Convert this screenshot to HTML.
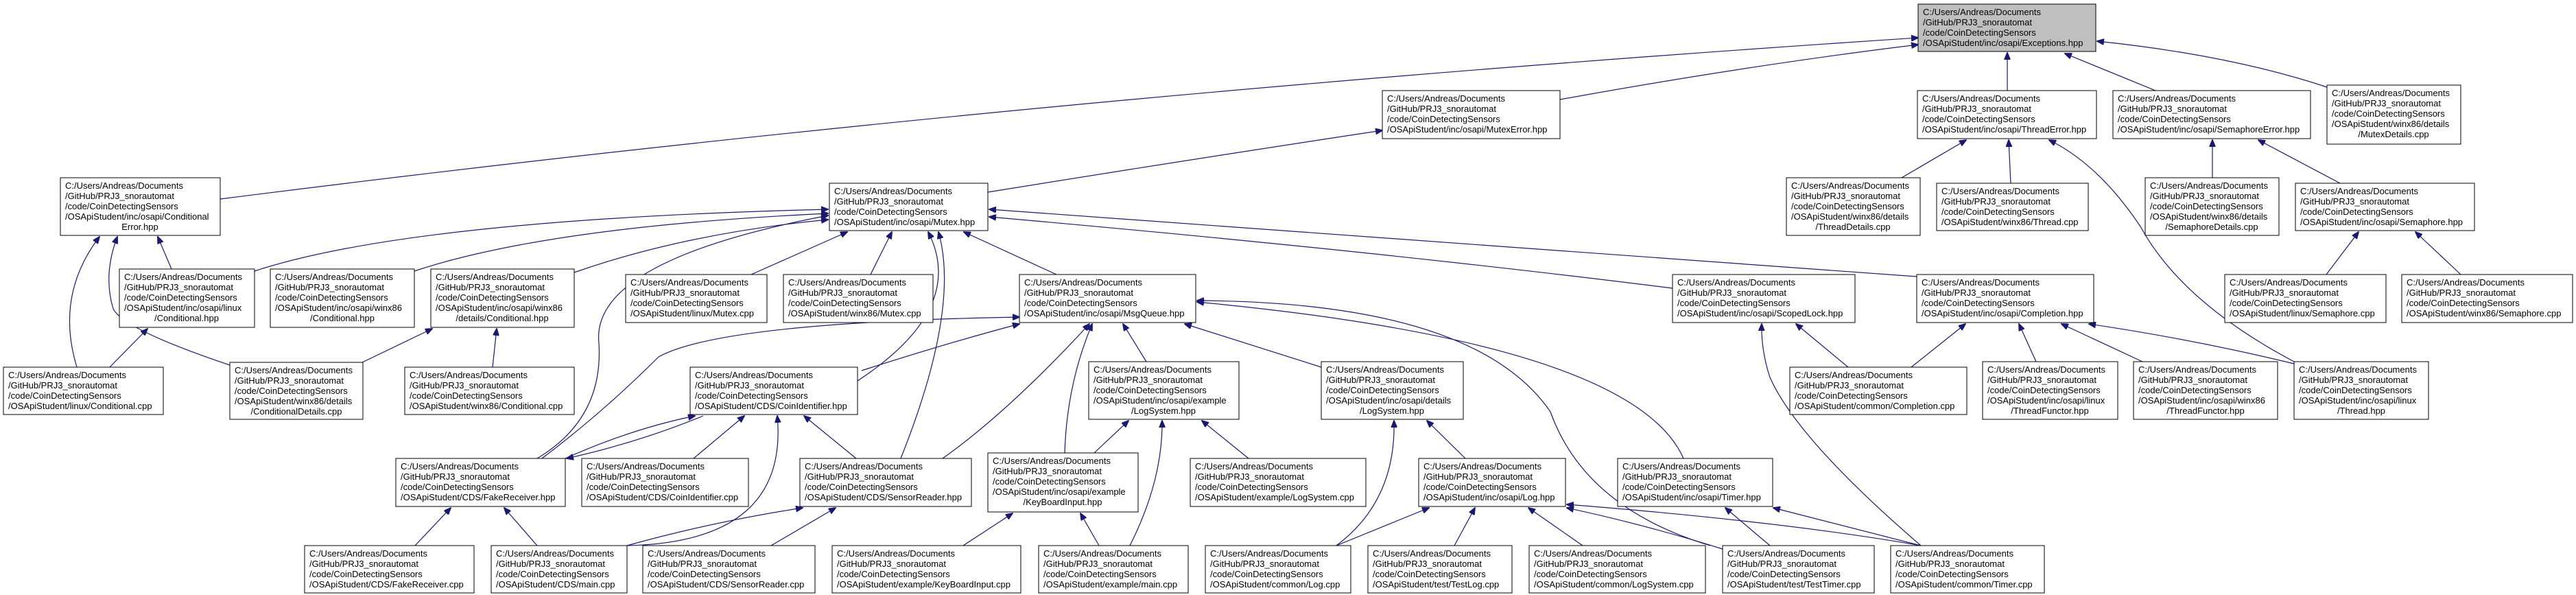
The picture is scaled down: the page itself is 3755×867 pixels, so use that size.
<!DOCTYPE html>
<html><head><meta charset="utf-8"><style>
html,body{margin:0;padding:0;background:#fff;}
svg{display:block;}
text{font-family:"Liberation Sans",Arial,sans-serif;font-size:13px;fill:#000;}
.n rect{fill:#fff;stroke:#000;stroke-width:1;}
.e path{fill:none;stroke:#191970;stroke-width:1.2;marker-end:url(#a);}
</style></head><body>
<svg width="3755" height="867" viewBox="0 0 3755 867" xmlns="http://www.w3.org/2000/svg">
<defs><marker id="a" markerWidth="11" markerHeight="9" refX="10" refY="4.5" orient="auto" markerUnits="userSpaceOnUse"><path d="M0,0 L11,4.5 L0,9z" fill="#191970" stroke="#191970"/></marker></defs>
<g class="e">
<!-- to Exceptions -->
<path d="M321,290 Q1500,140 2796,55"/>
<path d="M2274,145 Q2550,95 2796,65"/>
<path d="M2926,132 L2926,77"/>
<path d="M3142,132 L3010,78"/>
<path d="M3392,127 Q3250,80 3057,60"/>
<path d="M1440,280 Q1750,230 2015,190"/>
<path d="M2772,259 L2866,204"/>
<path d="M2931,267 L2928,204"/>
<path d="M3344,527 Q3180,440 3120,330 Q3060,240 2987,204"/>
<path d="M3225,259 L3225,204"/>
<path d="M3411,267 L3292,204"/>
<path d="M3391,400 L3438,338"/>
<path d="M3587,400 L3521,338"/>
<!-- conditional -->
<path d="M250,392 L230,345"/>
<path d="M112,535 Q80,430 145,345"/>
<path d="M335,532 Q180,480 165,450 Q150,400 171,345"/>
<path d="M371,395 Q600,320 1207,305"/>
<path d="M604,395 Q800,330 1207,311"/>
<path d="M837,397 Q1000,340 1207,320"/>
<path d="M160,535 L215,479"/>
<path d="M528,528 L630,479"/>
<path d="M718,535 L724,479"/>
<path d="M1095,400 L1235,338"/>
<path d="M1269,400 L1300,338"/>
<path d="M783,668 Q880,610 873,500 Q860,380 1207,314"/>
<path d="M1313,668 Q1400,450 1368,338"/>
<path d="M1250,555 Q1410,450 1353,338"/>
<path d="M1540,400 L1405,338"/>
<path d="M2438,420 Q2000,365 1442,316"/>
<path d="M2794,403 Q2100,350 1442,305"/>
<!-- msgqueue -->
<path d="M790,668 Q880,600 960,520 Q1050,470 1486,462"/>
<path d="M1256,540 Q1380,500 1486,472"/>
<path d="M1374,668 Q1470,600 1588,472"/>
<path d="M1552,660 Q1555,560 1592,472"/>
<path d="M1671,527 L1637,472"/>
<path d="M1926,535 L1727,472"/>
<path d="M2454,668 Q2380,500 1745,440"/>
<path d="M2493,795 Q2310,740 2260,600 Q2150,440 1745,438"/>
<!-- CDS -->
<path d="M824,668 Q920,625 1013,606"/>
<path d="M1025,606 Q930,645 826,668"/>
<path d="M1011,668 L1085,606"/>
<path d="M914,795 Q1150,790 1133,606"/>
<path d="M1248,668 L1172,606"/>
<path d="M605,795 L657,740"/>
<path d="M783,795 L735,740"/>
<path d="M914,795 Q1040,760 1170,740"/>
<path d="M1124,795 L1218,740"/>
<path d="M1404,795 L1476,748"/>
<path d="M1602,795 L1575,748"/>
<path d="M1647,795 Q1695,700 1694,613"/>
<path d="M1595,660 L1645,613"/>
<path d="M1820,668 L1752,613"/>
<path d="M1948,795 Q2035,730 2032,613"/>
<path d="M2136,668 L2080,613"/>
<path d="M1948,795 L2083,740"/>
<path d="M2120,795 L2150,740"/>
<path d="M2307,795 L2228,740"/>
<path d="M2511,800 Q2400,765 2284,740"/>
<path d="M2800,795 Q2600,760 2284,735"/>
<path d="M2580,795 L2515,740"/>
<path d="M2800,795 L2585,740"/>
<path d="M2800,795 Q2620,640 2580,550 Q2567,510 2568,472"/>
<path d="M2694,535 L2618,472"/>
<path d="M2786,535 L2865,472"/>
<path d="M2968,527 L2943,472"/>
<path d="M3123,527 L3005,472"/>
<path d="M3344,530 Q3200,495 3045,472"/>
</g>
<g class="n">
<rect x="2796" y="6" width="259" height="69" style="fill:#bfbfbf"/><text x="2803" y="22">C:/Users/Andreas/Documents</text><text x="2803" y="37">/GitHub/PRJ3_snorautomat</text><text x="2803" y="52">/code/CoinDetectingSensors</text><text x="2803" y="67">/OSApiStudent/inc/osapi/Exceptions.hpp</text>
<rect x="2015" y="132" width="259" height="70"/><text x="2022" y="148">C:/Users/Andreas/Documents</text><text x="2022" y="163">/GitHub/PRJ3_snorautomat</text><text x="2022" y="178">/code/CoinDetectingSensors</text><text x="2022" y="193">/OSApiStudent/inc/osapi/MutexError.hpp</text>
<rect x="2795" y="132" width="261" height="70"/><text x="2802" y="148">C:/Users/Andreas/Documents</text><text x="2802" y="163">/GitHub/PRJ3_snorautomat</text><text x="2802" y="178">/code/CoinDetectingSensors</text><text x="2802" y="193">/OSApiStudent/inc/osapi/ThreadError.hpp</text>
<rect x="3080" y="132" width="288" height="70"/><text x="3087" y="148">C:/Users/Andreas/Documents</text><text x="3087" y="163">/GitHub/PRJ3_snorautomat</text><text x="3087" y="178">/code/CoinDetectingSensors</text><text x="3087" y="193">/OSApiStudent/inc/osapi/SemaphoreError.hpp</text>
<rect x="3392" y="124" width="195" height="86"/><text x="3399" y="140">C:/Users/Andreas/Documents</text><text x="3399" y="155">/GitHub/PRJ3_snorautomat</text><text x="3399" y="170">/code/CoinDetectingSensors</text><text x="3399" y="185">/OSApiStudent/winx86/details</text><text x="3489" y="200" text-anchor="middle">/MutexDetails.cpp</text>
<rect x="88" y="259" width="233" height="84"/><text x="95" y="275">C:/Users/Andreas/Documents</text><text x="95" y="290">/GitHub/PRJ3_snorautomat</text><text x="95" y="305">/code/CoinDetectingSensors</text><text x="95" y="320">/OSApiStudent/inc/osapi/Conditional</text><text x="204" y="335" text-anchor="middle">Error.hpp</text>
<rect x="1209" y="267" width="231" height="69"/><text x="1216" y="283">C:/Users/Andreas/Documents</text><text x="1216" y="298">/GitHub/PRJ3_snorautomat</text><text x="1216" y="313">/code/CoinDetectingSensors</text><text x="1216" y="328">/OSApiStudent/inc/osapi/Mutex.hpp</text>
<rect x="2604" y="259" width="195" height="84"/><text x="2611" y="275">C:/Users/Andreas/Documents</text><text x="2611" y="290">/GitHub/PRJ3_snorautomat</text><text x="2611" y="305">/code/CoinDetectingSensors</text><text x="2611" y="320">/OSApiStudent/winx86/details</text><text x="2701" y="335" text-anchor="middle">/ThreadDetails.cpp</text>
<rect x="2823" y="267" width="221" height="69"/><text x="2830" y="283">C:/Users/Andreas/Documents</text><text x="2830" y="298">/GitHub/PRJ3_snorautomat</text><text x="2830" y="313">/code/CoinDetectingSensors</text><text x="2830" y="328">/OSApiStudent/winx86/Thread.cpp</text>
<rect x="3127" y="259" width="195" height="84"/><text x="3134" y="275">C:/Users/Andreas/Documents</text><text x="3134" y="290">/GitHub/PRJ3_snorautomat</text><text x="3134" y="305">/code/CoinDetectingSensors</text><text x="3134" y="320">/OSApiStudent/winx86/details</text><text x="3224" y="335" text-anchor="middle">/SemaphoreDetails.cpp</text>
<rect x="3346" y="267" width="261" height="69"/><text x="3353" y="283">C:/Users/Andreas/Documents</text><text x="3353" y="298">/GitHub/PRJ3_snorautomat</text><text x="3353" y="313">/code/CoinDetectingSensors</text><text x="3353" y="328">/OSApiStudent/inc/osapi/Semaphore.hpp</text>
<rect x="174" y="392" width="197" height="85"/><text x="181" y="408">C:/Users/Andreas/Documents</text><text x="181" y="423">/GitHub/PRJ3_snorautomat</text><text x="181" y="438">/code/CoinDetectingSensors</text><text x="181" y="453">/OSApiStudent/inc/osapi/linux</text><text x="272" y="468" text-anchor="middle">/Conditional.hpp</text>
<rect x="394" y="392" width="210" height="85"/><text x="401" y="408">C:/Users/Andreas/Documents</text><text x="401" y="423">/GitHub/PRJ3_snorautomat</text><text x="401" y="438">/code/CoinDetectingSensors</text><text x="401" y="453">/OSApiStudent/inc/osapi/winx86</text><text x="499" y="468" text-anchor="middle">/Conditional.hpp</text>
<rect x="628" y="392" width="209" height="85"/><text x="635" y="408">C:/Users/Andreas/Documents</text><text x="635" y="423">/GitHub/PRJ3_snorautomat</text><text x="635" y="438">/code/CoinDetectingSensors</text><text x="635" y="453">/OSApiStudent/inc/osapi/winx86</text><text x="732" y="468" text-anchor="middle">/details/Conditional.hpp</text>
<rect x="912" y="400" width="206" height="70"/><text x="919" y="416">C:/Users/Andreas/Documents</text><text x="919" y="431">/GitHub/PRJ3_snorautomat</text><text x="919" y="446">/code/CoinDetectingSensors</text><text x="919" y="461">/OSApiStudent/linux/Mutex.cpp</text>
<rect x="1142" y="400" width="218" height="70"/><text x="1149" y="416">C:/Users/Andreas/Documents</text><text x="1149" y="431">/GitHub/PRJ3_snorautomat</text><text x="1149" y="446">/code/CoinDetectingSensors</text><text x="1149" y="461">/OSApiStudent/winx86/Mutex.cpp</text>
<rect x="1486" y="400" width="257" height="70"/><text x="1493" y="416">C:/Users/Andreas/Documents</text><text x="1493" y="431">/GitHub/PRJ3_snorautomat</text><text x="1493" y="446">/code/CoinDetectingSensors</text><text x="1493" y="461">/OSApiStudent/inc/osapi/MsgQueue.hpp</text>
<rect x="2438" y="400" width="266" height="70"/><text x="2445" y="416">C:/Users/Andreas/Documents</text><text x="2445" y="431">/GitHub/PRJ3_snorautomat</text><text x="2445" y="446">/code/CoinDetectingSensors</text><text x="2445" y="461">/OSApiStudent/inc/osapi/ScopedLock.hpp</text>
<rect x="2794" y="400" width="258" height="70"/><text x="2801" y="416">C:/Users/Andreas/Documents</text><text x="2801" y="431">/GitHub/PRJ3_snorautomat</text><text x="2801" y="446">/code/CoinDetectingSensors</text><text x="2801" y="461">/OSApiStudent/inc/osapi/Completion.hpp</text>
<rect x="3243" y="400" width="235" height="70"/><text x="3250" y="416">C:/Users/Andreas/Documents</text><text x="3250" y="431">/GitHub/PRJ3_snorautomat</text><text x="3250" y="446">/code/CoinDetectingSensors</text><text x="3250" y="461">/OSApiStudent/linux/Semaphore.cpp</text>
<rect x="3501" y="400" width="249" height="70"/><text x="3508" y="416">C:/Users/Andreas/Documents</text><text x="3508" y="431">/GitHub/PRJ3_snorautomat</text><text x="3508" y="446">/code/CoinDetectingSensors</text><text x="3508" y="461">/OSApiStudent/winx86/Semaphore.cpp</text>
<rect x="5" y="535" width="233" height="69"/><text x="12" y="551">C:/Users/Andreas/Documents</text><text x="12" y="566">/GitHub/PRJ3_snorautomat</text><text x="12" y="581">/code/CoinDetectingSensors</text><text x="12" y="596">/OSApiStudent/linux/Conditional.cpp</text>
<rect x="335" y="528" width="194" height="83"/><text x="342" y="544">C:/Users/Andreas/Documents</text><text x="342" y="559">/GitHub/PRJ3_snorautomat</text><text x="342" y="574">/code/CoinDetectingSensors</text><text x="342" y="589">/OSApiStudent/winx86/details</text><text x="432" y="604" text-anchor="middle">/ConditionalDetails.cpp</text>
<rect x="590" y="535" width="247" height="69"/><text x="597" y="551">C:/Users/Andreas/Documents</text><text x="597" y="566">/GitHub/PRJ3_snorautomat</text><text x="597" y="581">/code/CoinDetectingSensors</text><text x="597" y="596">/OSApiStudent/winx86/Conditional.cpp</text>
<rect x="1006" y="535" width="244" height="69"/><text x="1013" y="551">C:/Users/Andreas/Documents</text><text x="1013" y="566">/GitHub/PRJ3_snorautomat</text><text x="1013" y="581">/code/CoinDetectingSensors</text><text x="1013" y="596">/OSApiStudent/CDS/CoinIdentifier.hpp</text>
<rect x="1587" y="527" width="219" height="84"/><text x="1594" y="543">C:/Users/Andreas/Documents</text><text x="1594" y="558">/GitHub/PRJ3_snorautomat</text><text x="1594" y="573">/code/CoinDetectingSensors</text><text x="1594" y="588">/OSApiStudent/inc/osapi/example</text><text x="1696" y="603" text-anchor="middle">/LogSystem.hpp</text>
<rect x="1926" y="527" width="207" height="84"/><text x="1933" y="543">C:/Users/Andreas/Documents</text><text x="1933" y="558">/GitHub/PRJ3_snorautomat</text><text x="1933" y="573">/code/CoinDetectingSensors</text><text x="1933" y="588">/OSApiStudent/inc/osapi/details</text><text x="2029" y="603" text-anchor="middle">/LogSystem.hpp</text>
<rect x="2609" y="535" width="258" height="69"/><text x="2616" y="551">C:/Users/Andreas/Documents</text><text x="2616" y="566">/GitHub/PRJ3_snorautomat</text><text x="2616" y="581">/code/CoinDetectingSensors</text><text x="2616" y="596">/OSApiStudent/common/Completion.cpp</text>
<rect x="2890" y="527" width="197" height="84"/><text x="2897" y="543">C:/Users/Andreas/Documents</text><text x="2897" y="558">/GitHub/PRJ3_snorautomat</text><text x="2897" y="573">/code/CoinDetectingSensors</text><text x="2897" y="588">/OSApiStudent/inc/osapi/linux</text><text x="2988" y="603" text-anchor="middle">/ThreadFunctor.hpp</text>
<rect x="3110" y="527" width="210" height="84"/><text x="3117" y="543">C:/Users/Andreas/Documents</text><text x="3117" y="558">/GitHub/PRJ3_snorautomat</text><text x="3117" y="573">/code/CoinDetectingSensors</text><text x="3117" y="588">/OSApiStudent/inc/osapi/winx86</text><text x="3215" y="603" text-anchor="middle">/ThreadFunctor.hpp</text>
<rect x="3344" y="527" width="196" height="84"/><text x="3351" y="543">C:/Users/Andreas/Documents</text><text x="3351" y="558">/GitHub/PRJ3_snorautomat</text><text x="3351" y="573">/code/CoinDetectingSensors</text><text x="3351" y="588">/OSApiStudent/inc/osapi/linux</text><text x="3442" y="603" text-anchor="middle">/Thread.hpp</text>
<rect x="577" y="668" width="247" height="70"/><text x="584" y="684">C:/Users/Andreas/Documents</text><text x="584" y="699">/GitHub/PRJ3_snorautomat</text><text x="584" y="714">/code/CoinDetectingSensors</text><text x="584" y="729">/OSApiStudent/CDS/FakeReceiver.hpp</text>
<rect x="848" y="668" width="243" height="70"/><text x="855" y="684">C:/Users/Andreas/Documents</text><text x="855" y="699">/GitHub/PRJ3_snorautomat</text><text x="855" y="714">/code/CoinDetectingSensors</text><text x="855" y="729">/OSApiStudent/CDS/CoinIdentifier.cpp</text>
<rect x="1166" y="668" width="250" height="70"/><text x="1173" y="684">C:/Users/Andreas/Documents</text><text x="1173" y="699">/GitHub/PRJ3_snorautomat</text><text x="1173" y="714">/code/CoinDetectingSensors</text><text x="1173" y="729">/OSApiStudent/CDS/SensorReader.hpp</text>
<rect x="1440" y="660" width="219" height="86"/><text x="1447" y="676">C:/Users/Andreas/Documents</text><text x="1447" y="691">/GitHub/PRJ3_snorautomat</text><text x="1447" y="706">/code/CoinDetectingSensors</text><text x="1447" y="721">/OSApiStudent/inc/osapi/example</text><text x="1549" y="736" text-anchor="middle">/KeyBoardInput.hpp</text>
<rect x="1735" y="668" width="256" height="70"/><text x="1742" y="684">C:/Users/Andreas/Documents</text><text x="1742" y="699">/GitHub/PRJ3_snorautomat</text><text x="1742" y="714">/code/CoinDetectingSensors</text><text x="1742" y="729">/OSApiStudent/example/LogSystem.cpp</text>
<rect x="2068" y="668" width="214" height="70"/><text x="2075" y="684">C:/Users/Andreas/Documents</text><text x="2075" y="699">/GitHub/PRJ3_snorautomat</text><text x="2075" y="714">/code/CoinDetectingSensors</text><text x="2075" y="729">/OSApiStudent/inc/osapi/Log.hpp</text>
<rect x="2358" y="668" width="226" height="70"/><text x="2365" y="684">C:/Users/Andreas/Documents</text><text x="2365" y="699">/GitHub/PRJ3_snorautomat</text><text x="2365" y="714">/code/CoinDetectingSensors</text><text x="2365" y="729">/OSApiStudent/inc/osapi/Timer.hpp</text>
<rect x="444" y="795" width="247" height="69"/><text x="451" y="811">C:/Users/Andreas/Documents</text><text x="451" y="826">/GitHub/PRJ3_snorautomat</text><text x="451" y="841">/code/CoinDetectingSensors</text><text x="451" y="856">/OSApiStudent/CDS/FakeReceiver.cpp</text>
<rect x="716" y="795" width="198" height="69"/><text x="723" y="811">C:/Users/Andreas/Documents</text><text x="723" y="826">/GitHub/PRJ3_snorautomat</text><text x="723" y="841">/code/CoinDetectingSensors</text><text x="723" y="856">/OSApiStudent/CDS/main.cpp</text>
<rect x="937" y="795" width="251" height="69"/><text x="944" y="811">C:/Users/Andreas/Documents</text><text x="944" y="826">/GitHub/PRJ3_snorautomat</text><text x="944" y="841">/code/CoinDetectingSensors</text><text x="944" y="856">/OSApiStudent/CDS/SensorReader.cpp</text>
<rect x="1213" y="795" width="275" height="69"/><text x="1220" y="811">C:/Users/Andreas/Documents</text><text x="1220" y="826">/GitHub/PRJ3_snorautomat</text><text x="1220" y="841">/code/CoinDetectingSensors</text><text x="1220" y="856">/OSApiStudent/example/KeyBoardInput.cpp</text>
<rect x="1514" y="795" width="218" height="69"/><text x="1521" y="811">C:/Users/Andreas/Documents</text><text x="1521" y="826">/GitHub/PRJ3_snorautomat</text><text x="1521" y="841">/code/CoinDetectingSensors</text><text x="1521" y="856">/OSApiStudent/example/main.cpp</text>
<rect x="1757" y="795" width="212" height="69"/><text x="1764" y="811">C:/Users/Andreas/Documents</text><text x="1764" y="826">/GitHub/PRJ3_snorautomat</text><text x="1764" y="841">/code/CoinDetectingSensors</text><text x="1764" y="856">/OSApiStudent/common/Log.cpp</text>
<rect x="1994" y="795" width="210" height="69"/><text x="2001" y="811">C:/Users/Andreas/Documents</text><text x="2001" y="826">/GitHub/PRJ3_snorautomat</text><text x="2001" y="841">/code/CoinDetectingSensors</text><text x="2001" y="856">/OSApiStudent/test/TestLog.cpp</text>
<rect x="2229" y="795" width="257" height="69"/><text x="2236" y="811">C:/Users/Andreas/Documents</text><text x="2236" y="826">/GitHub/PRJ3_snorautomat</text><text x="2236" y="841">/code/CoinDetectingSensors</text><text x="2236" y="856">/OSApiStudent/common/LogSystem.cpp</text>
<rect x="2511" y="795" width="221" height="69"/><text x="2518" y="811">C:/Users/Andreas/Documents</text><text x="2518" y="826">/GitHub/PRJ3_snorautomat</text><text x="2518" y="841">/code/CoinDetectingSensors</text><text x="2518" y="856">/OSApiStudent/test/TestTimer.cpp</text>
<rect x="2756" y="795" width="224" height="69"/><text x="2763" y="811">C:/Users/Andreas/Documents</text><text x="2763" y="826">/GitHub/PRJ3_snorautomat</text><text x="2763" y="841">/code/CoinDetectingSensors</text><text x="2763" y="856">/OSApiStudent/common/Timer.cpp</text>
</g>
</svg>
</body></html>
